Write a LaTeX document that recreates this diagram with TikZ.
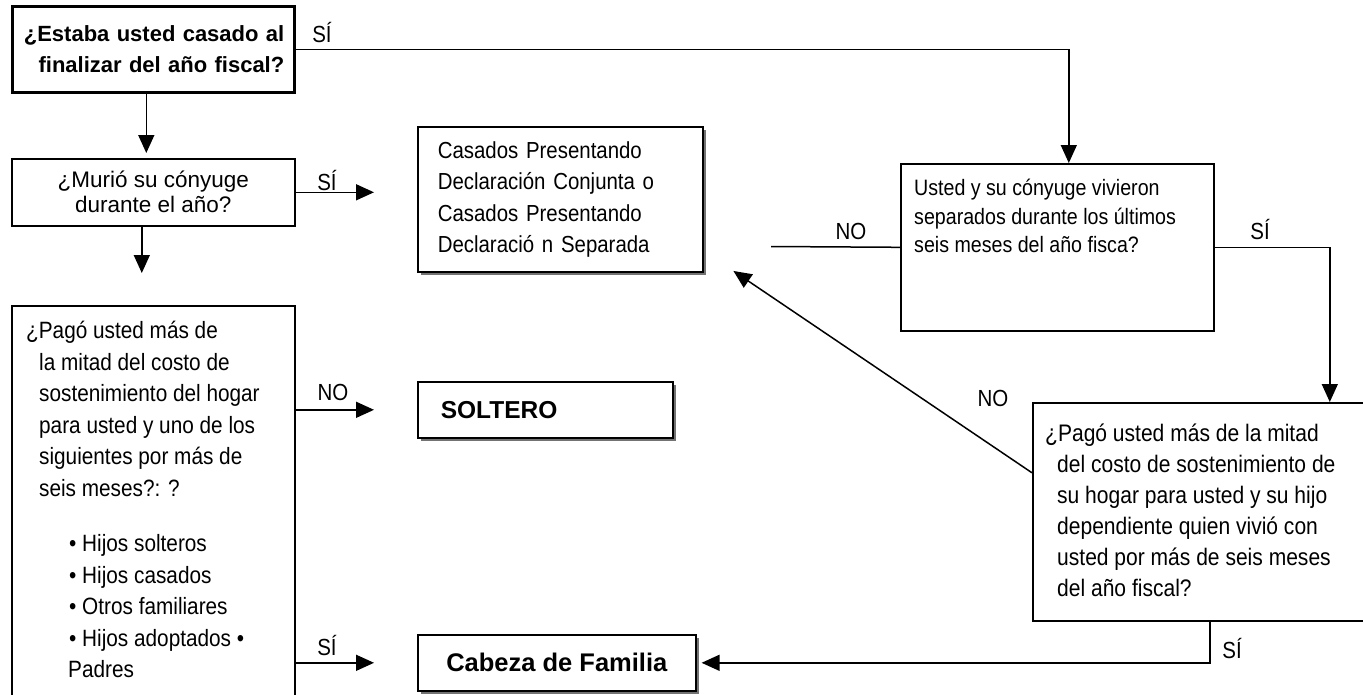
\documentclass[tikz,border=0pt]{standalone}
\usepackage{fontspec}
\setmainfont{Liberation Sans}
\newfontfamily\condfont{Liberation Sans}[FakeStretch=0.88]
\usetikzlibrary{positioning}
\usetikzlibrary{arrows.meta}
\usetikzlibrary{shadows}
\tikzset{>={Triangle[length=18pt,width=16pt]}}
\tikzset{box/.style={draw,line width=1.6pt,anchor=north west,inner sep=0pt}}
\tikzset{res/.style={box,fill=white,drop shadow={shadow xshift=3pt,shadow yshift=-3pt,fill=black!55,opacity=1}}}
\tikzset{txt/.style={inner sep=0pt,align=left,font=\condfont\fontsize{23.6}{31.5}\selectfont}}
\tikzset{lbl/.style={inner sep=0pt,font=\condfont\fontsize{23.3}{26}\selectfont}}
\tikzset{ln/.style={line width=1.5pt}}

\begin{document}
\begin{tikzpicture}[x=1pt,y=-1pt]
\useasboundingbox (0,0) rectangle (1363,694);
\clip (0,0) rectangle (1363,694);

% left column
\node[box,line width=2.6pt,minimum width=282pt,minimum height=86pt,text width=262pt,inner xsep=10pt,
  align=right,font=\bfseries\fontsize{22}{31}\selectfont] (qcasado) at (11,5)
  {¿Estaba usted casado al\\finalizar del año fiscal?};
\node[box,minimum width=283pt,minimum height=67pt,align=center,font=\fontsize{22.5}{25}\selectfont]
  (qmurio) at (11,158) {¿Murió su cónyuge\\durante el año?};
\node[box,minimum width=283pt,minimum height=400pt] (qpago) at (11,305) {};
\node[txt,below right=16pt and 15pt of qpago.north west] (tpago)
  {¿Pagó usted más de\\
   \hspace*{13pt}la mitad del costo de\\
   \hspace*{13pt}sostenimiento del hogar\\
   \hspace*{13pt}para usted y uno de los\\
   \hspace*{13pt}siguientes por más de\\
   \hspace*{13pt}seis meses?: ?\\[24pt]
   \hspace*{43pt}• Hijos solteros\\
   \hspace*{43pt}• Hijos casados\\
   \hspace*{43pt}• Otros familiares\\
   \hspace*{43pt}• Hijos adoptados •\\
   \hspace*{42pt}Padres};

% results
\node[res,minimum width=285pt,minimum height=145pt,text width=245pt,inner xsep=20pt,align=left,
  font=\condfont\fontsize{23.2}{31.5}\selectfont] (rconj) at (417,126)
  {Casados Presentando\\Declaración Conjunta o\\Casados Presentando\\Declaració n Separada};
\node[res,minimum width=255pt,minimum height=56pt,text width=209pt,inner xsep=23pt,align=left,
  font=\bfseries\fontsize{24.5}{30}\selectfont] (rsoltero) at (417,381) {SOLTERO};
\node[res,minimum width=278pt,minimum height=56pt,font=\bfseries\fontsize{25.5}{30}\selectfont]
  (rcabeza) at (417,634) {Cabeza de Familia};

% right column
\node[box,minimum width=313pt,minimum height=167pt] (qseparado) at (900,163) {};
\node[txt,font=\condfont\fontsize{22.3}{28.5}\selectfont,below right=16pt and 14pt of qseparado.north west]
  (tseparado) {Usted y su cónyuge vivieron\\separados durante los últimos\\seis meses del año fisca?};
\node[box,minimum width=354pt,minimum height=218pt] (qhogar) at (1032,402) {};
\node[txt,font=\condfont\fontsize{23.9}{31}\selectfont,below right=22pt and 13pt of qhogar.north west] (thogar)
  {¿Pagó usted más de la mitad\\
   \hspace*{12pt}del costo de sostenimiento de\\
   \hspace*{12pt}su hogar para usted y su hijo\\
   \hspace*{12pt}dependiente quien vivió con\\
   \hspace*{12pt}usted por más de seis meses\\
   \hspace*{12pt}del año fiscal?};
\coordinate (noend) at (771,246.5);

% connectors
\draw[ln,->] (qcasado.east) -| ([xshift=11.5pt]qseparado.north);
\draw[ln,->,shorten >=5pt] ([xshift=-7pt]qcasado.south) -- ([xshift=-7pt]qmurio.north);
\draw[ln,->,shorten >=43pt] (qmurio.east) -- (qmurio.east -| rconj.west);
\draw[ln,->,shorten >=32pt] ([xshift=-11.5pt]qmurio.south) -- ([xshift=-11.5pt]qpago.north);
\draw[ln,->,shorten >=43pt] (qpago.east |- rsoltero.west) -- (rsoltero.west);
\draw[ln,->,shorten >=43pt] (qpago.east |- rcabeza.west) -- (rcabeza.west);
\draw[ln] (qseparado.west) -- (noend);
\draw[ln,->] (qseparado.east) -| ([xshift=120pt]qhogar.north);
\draw[ln,->,shorten >=5pt] (qhogar.south) |- (rcabeza.east);
\draw[ln,->,shorten >=36pt] ([yshift=39pt]qhogar.west) -- ([yshift=-51.5pt]rconj.east);

% labels
\node[lbl] (lsia) at (322,33) {SÍ};
\node[lbl] (lsib) at (327,181) {SÍ};
\node[lbl] (lnoa) at (333,392) {NO};
\node[lbl] (lsic) at (327,646) {SÍ};
\node[lbl] (lnob) at (851,231) {NO};
\node[lbl] (lsid) at (1260,230) {SÍ};
\node[lbl] (lnoc) at (993,398) {NO};
\node[lbl] (lsie) at (1232,649) {SÍ};
\end{tikzpicture}
\end{document}
